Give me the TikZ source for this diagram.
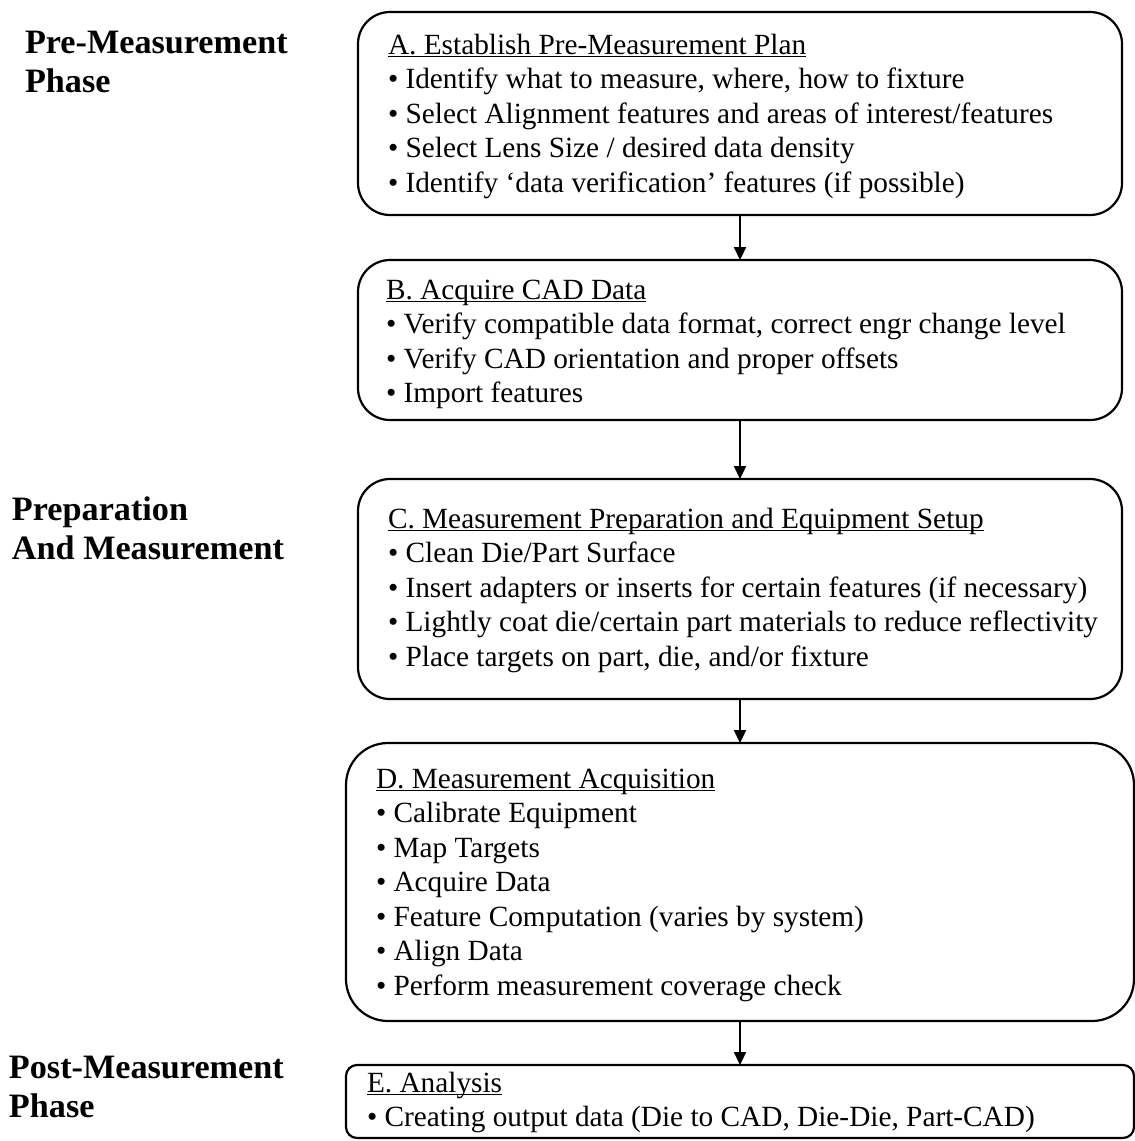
\documentclass[tikz,border=0pt]{standalone}
\usepackage{fontspec}
\setmainfont{Liberation Serif}
\usetikzlibrary{arrows.meta}
\newcommand\myul[1]{\setbox0\hbox{#1}\rlap{\rule[-3.4pt]{\wd0}{1.6pt}}\box0}
\newcommand\bl{\textbullet\ }
\tikzset{
  stepbox/.style={draw=black, line width=2.2pt, inner sep=0pt, outer sep=0pt, fill=none},
  bodytext/.style={anchor=base west, inner sep=0pt, outer sep=0pt, font=\fontsize{29.3}{34.5}\selectfont},
  phasetext/.style={anchor=base west, inner sep=0pt, outer sep=0pt, font=\fontsize{34.2}{39.3}\selectfont\bfseries},
  arr/.style={line width=2.2pt, -{Triangle[length=13pt,width=12pt]}}
}
\begin{document}
\begin{tikzpicture}[x=1pt,y=-1pt]
\useasboundingbox (0,0) rectangle (1135,1141);
% phase labels
\node[phasetext] (p1) at (25,53) {\begin{tabular}[t]{@{}l@{}}Pre-Measurement\\Phase\end{tabular}};
\node[phasetext] (p2) at (12,520) {\begin{tabular}[t]{@{}l@{}}Preparation\\And Measurement\end{tabular}};
\node[phasetext] (p3) at (9,1078) {\begin{tabular}[t]{@{}l@{}}Post-Measurement\\Phase\end{tabular}};
% boxes
\node[stepbox, rounded corners=32pt, minimum width=764pt, minimum height=203pt] (A) at (740,113.5) {};
\node[stepbox, rounded corners=32pt, minimum width=764pt, minimum height=160pt] (B) at (740,340) {};
\node[stepbox, rounded corners=32pt, minimum width=764pt, minimum height=220pt] (C) at (740,589) {};
\node[stepbox, rounded corners=42pt, minimum width=788pt, minimum height=278pt] (D) at (740,882) {};
\node[stepbox, rounded corners=11pt, minimum width=788pt, minimum height=73pt] (E) at (740,1101.5) {};
% texts
\node[bodytext] (tA) at (388,54) {\begin{tabular}[t]{@{}l@{}}
\myul{A. Establish Pre-Measurement Plan}\\
\bl Identify what to measure, where, how to fixture\\
\bl Select Alignment features and areas of interest/features\\
\bl Select Lens Size / desired data density\\
\bl Identify ‘data verification’ features (if possible)
\end{tabular}};
\node[bodytext] (tB) at (386,299) {\begin{tabular}[t]{@{}l@{}}
\myul{B. Acquire CAD Data}\\
\bl Verify compatible data format, correct engr change level\\
\bl Verify CAD orientation and proper offsets\\
\bl Import features
\end{tabular}};
\node[bodytext] (tC) at (388,528) {\begin{tabular}[t]{@{}l@{}}
\myul{C. Measurement Preparation and Equipment Setup}\\
\bl Clean Die/Part Surface\\
\bl Insert adapters or inserts for certain features (if necessary)\\
\bl Lightly coat die/certain part materials to reduce reflectivity\\
\bl Place targets on part, die, and/or fixture
\end{tabular}};
\node[bodytext] (tD) at (376,788) {\begin{tabular}[t]{@{}l@{}}
\myul{D. Measurement Acquisition}\\
\bl Calibrate Equipment\\
\bl Map Targets\\
\bl Acquire Data\\
\bl Feature Computation (varies by system)\\
\bl Align Data\\
\bl Perform measurement coverage check
\end{tabular}};
\node[bodytext] (tE) at (367,1092) {\begin{tabular}[t]{@{}l@{}}
\myul{E. Analysis}\\
\bl Creating output data (Die to CAD, Die-Die, Part-CAD)
\end{tabular}};
% arrows
\draw[arr] (A.south) -- (B.north);
\draw[arr] (B.south) -- (C.north);
\draw[arr] (C.south) -- (D.north);
\draw[arr] (D.south) -- (E.north);
\end{tikzpicture}
\end{document}
